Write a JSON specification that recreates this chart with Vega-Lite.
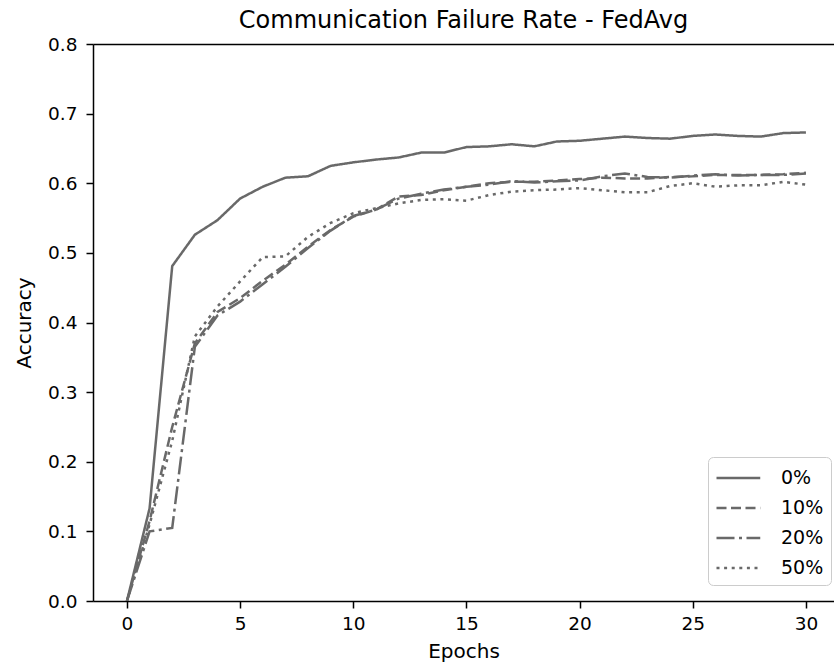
{
  "$schema": "https://vega.github.io/schema/vega-lite/v6.json",
  "width": 741,
  "height": 557,
  "autosize": {"type": "none"},
  "padding": {"left": 93, "top": 44, "right": 0, "bottom": 65},
  "background": "white",
  "title": {"text": "Communication Failure Rate - FedAvg", "font": "DejaVu Sans", "fontSize": 24, "fontWeight": "normal", "color": "#000000", "offset": 2, "anchor": "middle"},
  "config": {
    "view": {"stroke": null},
    "font": "DejaVu Sans",
    "axis": {"labelFont": "DejaVu Sans", "titleFont": "DejaVu Sans", "labelFontSize": 18.5, "titleFontSize": 20, "titleFontWeight": "normal", "labelColor": "#000000", "titleColor": "#000000", "domainColor": "#000000", "tickColor": "#000000", "domainWidth": 1.5, "tickWidth": 1.5, "tickSize": 7, "grid": false, "labelPadding": 6}
  },
  "data": {"values": [
    {"epoch":0,"rate":"0%","acc":0},{"epoch":1,"rate":"0%","acc":0.133},{"epoch":2,"rate":"0%","acc":0.481},{"epoch":3,"rate":"0%","acc":0.526},{"epoch":4,"rate":"0%","acc":0.547},{"epoch":5,"rate":"0%","acc":0.578},{"epoch":6,"rate":"0%","acc":0.595},{"epoch":7,"rate":"0%","acc":0.608},{"epoch":8,"rate":"0%","acc":0.610},{"epoch":9,"rate":"0%","acc":0.625},{"epoch":10,"rate":"0%","acc":0.630},{"epoch":11,"rate":"0%","acc":0.634},{"epoch":12,"rate":"0%","acc":0.637},{"epoch":13,"rate":"0%","acc":0.644},{"epoch":14,"rate":"0%","acc":0.644},{"epoch":15,"rate":"0%","acc":0.652},{"epoch":16,"rate":"0%","acc":0.653},{"epoch":17,"rate":"0%","acc":0.656},{"epoch":18,"rate":"0%","acc":0.653},{"epoch":19,"rate":"0%","acc":0.660},{"epoch":20,"rate":"0%","acc":0.661},{"epoch":21,"rate":"0%","acc":0.664},{"epoch":22,"rate":"0%","acc":0.667},{"epoch":23,"rate":"0%","acc":0.665},{"epoch":24,"rate":"0%","acc":0.664},{"epoch":25,"rate":"0%","acc":0.668},{"epoch":26,"rate":"0%","acc":0.670},{"epoch":27,"rate":"0%","acc":0.668},{"epoch":28,"rate":"0%","acc":0.667},{"epoch":29,"rate":"0%","acc":0.672},{"epoch":30,"rate":"0%","acc":0.673},
    {"epoch":0,"rate":"10%","acc":0},{"epoch":1,"rate":"10%","acc":0.115},{"epoch":2,"rate":"10%","acc":0.25},{"epoch":3,"rate":"10%","acc":0.37},{"epoch":4,"rate":"10%","acc":0.415},{"epoch":5,"rate":"10%","acc":0.435},{"epoch":6,"rate":"10%","acc":0.46},{"epoch":7,"rate":"10%","acc":0.483},{"epoch":8,"rate":"10%","acc":0.509},{"epoch":9,"rate":"10%","acc":0.533},{"epoch":10,"rate":"10%","acc":0.552},{"epoch":11,"rate":"10%","acc":0.562},{"epoch":12,"rate":"10%","acc":0.581},{"epoch":13,"rate":"10%","acc":0.583},{"epoch":14,"rate":"10%","acc":0.590},{"epoch":15,"rate":"10%","acc":0.595},{"epoch":16,"rate":"10%","acc":0.600},{"epoch":17,"rate":"10%","acc":0.602},{"epoch":18,"rate":"10%","acc":0.602},{"epoch":19,"rate":"10%","acc":0.604},{"epoch":20,"rate":"10%","acc":0.606},{"epoch":21,"rate":"10%","acc":0.608},{"epoch":22,"rate":"10%","acc":0.607},{"epoch":23,"rate":"10%","acc":0.607},{"epoch":24,"rate":"10%","acc":0.609},{"epoch":25,"rate":"10%","acc":0.610},{"epoch":26,"rate":"10%","acc":0.612},{"epoch":27,"rate":"10%","acc":0.612},{"epoch":28,"rate":"10%","acc":0.612},{"epoch":29,"rate":"10%","acc":0.613},{"epoch":30,"rate":"10%","acc":0.615},
    {"epoch":0,"rate":"20%","acc":0},{"epoch":1,"rate":"20%","acc":0.100},{"epoch":2,"rate":"20%","acc":0.105},{"epoch":3,"rate":"20%","acc":0.365},{"epoch":4,"rate":"20%","acc":0.41},{"epoch":5,"rate":"20%","acc":0.43},{"epoch":6,"rate":"20%","acc":0.455},{"epoch":7,"rate":"20%","acc":0.48},{"epoch":8,"rate":"20%","acc":0.507},{"epoch":9,"rate":"20%","acc":0.532},{"epoch":10,"rate":"20%","acc":0.553},{"epoch":11,"rate":"20%","acc":0.562},{"epoch":12,"rate":"20%","acc":0.578},{"epoch":13,"rate":"20%","acc":0.585},{"epoch":14,"rate":"20%","acc":0.591},{"epoch":15,"rate":"20%","acc":0.595},{"epoch":16,"rate":"20%","acc":0.598},{"epoch":17,"rate":"20%","acc":0.603},{"epoch":18,"rate":"20%","acc":0.601},{"epoch":19,"rate":"20%","acc":0.603},{"epoch":20,"rate":"20%","acc":0.604},{"epoch":21,"rate":"20%","acc":0.610},{"epoch":22,"rate":"20%","acc":0.614},{"epoch":23,"rate":"20%","acc":0.609},{"epoch":24,"rate":"20%","acc":0.608},{"epoch":25,"rate":"20%","acc":0.611},{"epoch":26,"rate":"20%","acc":0.613},{"epoch":27,"rate":"20%","acc":0.611},{"epoch":28,"rate":"20%","acc":0.612},{"epoch":29,"rate":"20%","acc":0.612},{"epoch":30,"rate":"20%","acc":0.614},
    {"epoch":0,"rate":"50%","acc":0},{"epoch":1,"rate":"50%","acc":0.11},{"epoch":2,"rate":"50%","acc":0.23},{"epoch":3,"rate":"50%","acc":0.38},{"epoch":4,"rate":"50%","acc":0.423},{"epoch":5,"rate":"50%","acc":0.459},{"epoch":6,"rate":"50%","acc":0.494},{"epoch":7,"rate":"50%","acc":0.495},{"epoch":8,"rate":"50%","acc":0.523},{"epoch":9,"rate":"50%","acc":0.543},{"epoch":10,"rate":"50%","acc":0.557},{"epoch":11,"rate":"50%","acc":0.564},{"epoch":12,"rate":"50%","acc":0.571},{"epoch":13,"rate":"50%","acc":0.576},{"epoch":14,"rate":"50%","acc":0.577},{"epoch":15,"rate":"50%","acc":0.575},{"epoch":16,"rate":"50%","acc":0.583},{"epoch":17,"rate":"50%","acc":0.588},{"epoch":18,"rate":"50%","acc":0.590},{"epoch":19,"rate":"50%","acc":0.591},{"epoch":20,"rate":"50%","acc":0.593},{"epoch":21,"rate":"50%","acc":0.590},{"epoch":22,"rate":"50%","acc":0.587},{"epoch":23,"rate":"50%","acc":0.587},{"epoch":24,"rate":"50%","acc":0.596},{"epoch":25,"rate":"50%","acc":0.600},{"epoch":26,"rate":"50%","acc":0.595},{"epoch":27,"rate":"50%","acc":0.597},{"epoch":28,"rate":"50%","acc":0.597},{"epoch":29,"rate":"50%","acc":0.602},{"epoch":30,"rate":"50%","acc":0.598}
  ]},
  "layer": [
    {
      "mark": {"type": "line", "stroke": "#696969", "strokeWidth": 2.5, "clip": true},
      "encoding": {
        "x": {"field": "epoch", "type": "quantitative", "scale": {"domain": [-1.5, 31.24], "nice": false, "zero": false}, "axis": {"values": [0,5,10,15,20,25,30], "title": "Epochs", "titlePadding": 9, "format": "d"}},
        "y": {"field": "acc", "type": "quantitative", "scale": {"domain": [0, 0.8], "nice": false}, "axis": {"values": [0,0.1,0.2,0.3,0.4,0.5,0.6,0.7,0.8], "format": ".1f", "title": "Accuracy", "titlePadding": 13, "labelPadding": 9}},
        "strokeDash": {"field": "rate", "type": "nominal", "scale": {"domain": ["0%","10%","20%","50%"], "range": [[1,0],[10,4.5],[18,4.5,3,4.5],[3,4.6]]},
          "legend": {"title": null, "orient": "none", "legendX": 615, "legendY": 413, "symbolType": "M-1,0H2.5", "symbolSize": 625, "symbolStrokeWidth": 2.5, "symbolStrokeColor": "#696969", "symbolFillColor": "transparent", "labelFontSize": 19, "labelFont": "DejaVu Sans", "labelColor": "#000000", "labelOffset": 38, "rowPadding": 6, "padding": 7, "strokeColor": "#cccccc", "fillColor": "white", "cornerRadius": 5}}
      }
    },
    {
      "mark": {"type": "line", "opacity": 0},
      "encoding": {
        "x": {"field": "epoch", "type": "quantitative", "axis": {"orient": "top", "labels": false, "ticks": false, "title": null}},
        "y": {"field": "acc", "type": "quantitative"},
        "detail": {"field": "rate"}
      }
    }
  ],
  "resolve": {"axis": {"x": "independent"}}
}
